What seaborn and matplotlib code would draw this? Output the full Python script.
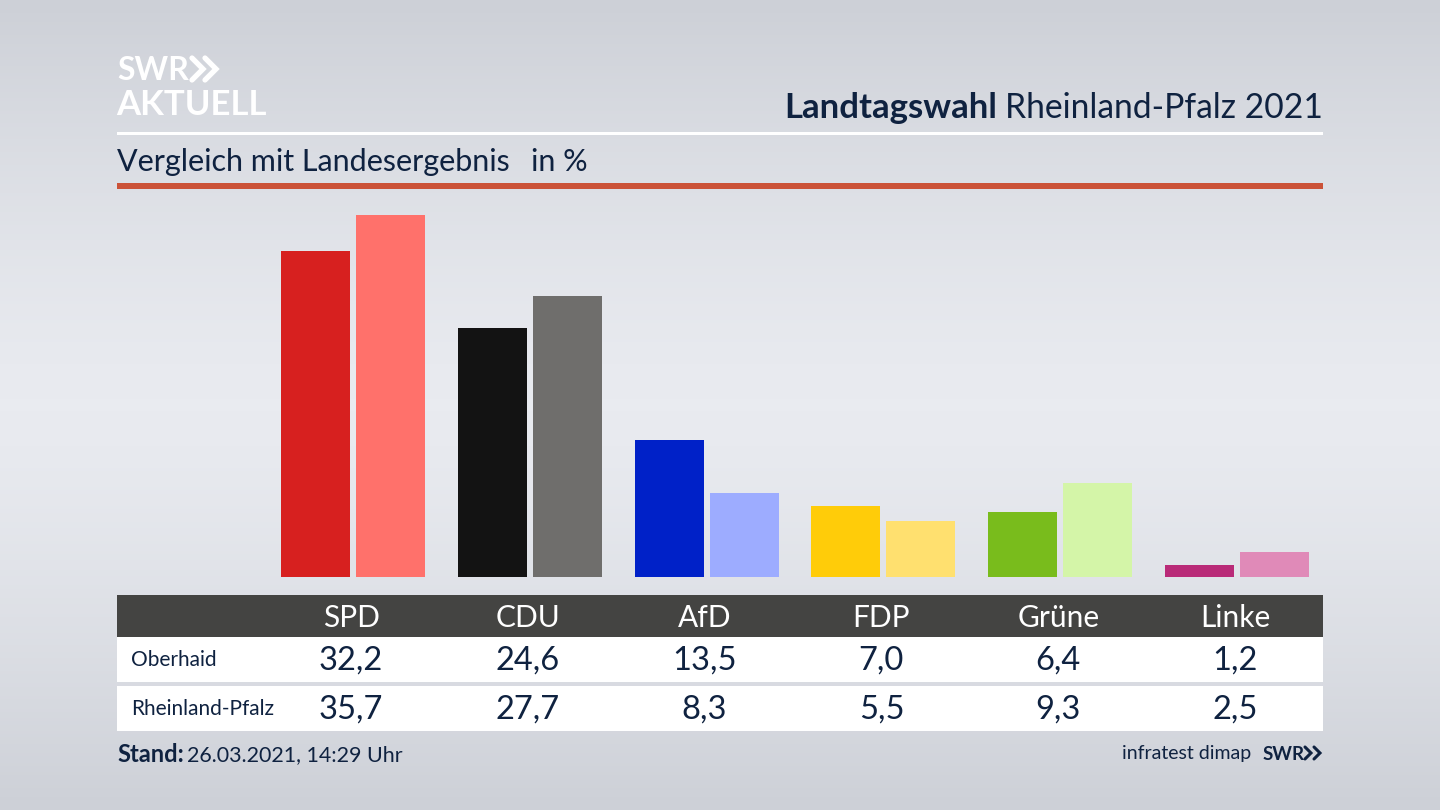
import numpy as np
import pandas as pd
import matplotlib.pyplot as plt
import seaborn as sns

# Daten
parteien = ['SPD', 'CDU', 'AfD', 'FDP', 'Grüne', 'Linke']
oberhaid = [32.2, 24.6, 13.5, 7.0, 6.4, 1.2]
rheinland_pfalz = [35.7, 27.7, 8.3, 5.5, 9.3, 2.5]
farben_oberhaid = ['#d7201f', '#131313', '#0021c8', '#ffcc09', '#79bc1c', '#b92a78']
farben_land = ['#ff716b', '#6f6e6c', '#9dacff', '#ffe06f', '#d4f5a8', '#e08ab8']
gebiete = ['Oberhaid', 'Rheinland-Pfalz']

DUNKEL = '#0f2240'

sns.set_theme(style='white')
plt.rcParams['font.family'] = ['Lato', 'DejaVu Sans']

df = pd.DataFrame({
    'Partei': parteien * 2,
    'Gebiet': [gebiete[0]] * 6 + [gebiete[1]] * 6,
    'Wert': oberhaid + rheinland_pfalz,
})

fig = plt.figure(figsize=(14.4, 8.1), dpi=100)

# Hintergrund und Rahmen in Pixelkoordinaten
bg = fig.add_axes([0, 0, 1, 1])
bg.set_xlim(0, 1440)
bg.set_ylim(810, 0)
bg.axis('off')
verlauf = np.abs(np.linspace(-1, 1, 256)).reshape(-1, 1) ** 1.4
bg.imshow(verlauf, extent=[0, 1440, 810, 0], aspect='auto', zorder=0,
          cmap=sns.blend_palette(['#e9ebf0', '#cdd0d7'], as_cmap=True), vmin=0, vmax=1)

# Balken
ax = fig.add_axes([117 / 1440, 1 - 577 / 810, 1206 / 1440, 387 / 810])
ax.patch.set_alpha(0)
sns.barplot(data=df, x='Partei', y='Wert', hue='Gebiet', order=parteien, hue_order=gebiete,
            width=0.848, gap=0.08, legend=False, ax=ax, saturation=1, linewidth=0)
for cont, farben in zip(ax.containers, [farben_oberhaid, farben_land]):
    for balken, farbe in zip(cont, farben):
        balken.set_facecolor(farbe)
ax.set_xlim(-1.335, 5.486)
ax.set_ylim(0, 38.2)
ax.axis('off')

# Kopf
fg = fig.add_axes([0, 0, 1, 1])
fg.set_xlim(0, 1440)
fg.set_ylim(810, 0)
fg.axis('off')
fg.patch.set_alpha(0)

fg.text(117, 71, 'SWR', color='white', fontsize=23, fontweight='bold', va='center', ha='left')
fg.text(116, 105, 'AKTUELL', color='white', fontsize=25, fontweight='bold', va='center', ha='left')
for x0 in [192, 205]:
    fg.plot([x0, x0 + 11, x0], [58, 69, 80], color='white', lw=3.8, solid_joinstyle='miter')

fg.text(1323, 108, 'Rheinland-Pfalz 2021', color=DUNKEL, fontsize=24.2, va='center', ha='right')
fg.text(997, 108, 'Landtagswahl', color=DUNKEL, fontsize=25, fontweight='bold', va='center', ha='right')
fg.fill_between([117, 1323], 132, 135, color='white', lw=0)
fg.text(117, 162, 'Vergleich mit Landesergebnis', color=DUNKEL, fontsize=22, va='center', ha='left')
fg.text(531, 162, 'in %', color=DUNKEL, fontsize=22, va='center', ha='left')
fg.fill_between([117, 1323], 183, 189, color='#cb5238', lw=0)

# Tabelle
fg.fill_between([117, 1323], 595, 637, color='#444442', lw=0)
fg.fill_between([117, 1323], 637, 682, color='white', lw=0)
fg.fill_between([117, 1323], 686, 731, color='white', lw=0)
for i, partei in enumerate(parteien):
    x = 351 + i * 176.8
    fg.text(x, 618, partei, color='white', fontsize=21.5, va='center', ha='center')
    fg.text(x, 661, f'{oberhaid[i]:.1f}'.replace('.', ','), color=DUNKEL, fontsize=23.5, va='center', ha='center')
    fg.text(x, 710, f'{rheinland_pfalz[i]:.1f}'.replace('.', ','), color=DUNKEL, fontsize=23.5, va='center', ha='center')
fg.text(131, 660, gebiete[0], color=DUNKEL, fontsize=15, va='center', ha='left')
fg.text(131, 709, gebiete[1], color=DUNKEL, fontsize=15, va='center', ha='left')

# Fuss
fg.text(117, 755, 'Stand:', color=DUNKEL, fontsize=17, fontweight='bold', va='center', ha='left')
fg.text(187, 755, '26.03.2021, 14:29 Uhr', color=DUNKEL, fontsize=15.4, va='center', ha='left')
fg.text(1251, 754, 'infratest dimap', color=DUNKEL, fontsize=14, va='center', ha='right')
fg.text(1263, 754, 'SWR', color=DUNKEL, fontsize=13.5, fontweight='bold', va='center', ha='left')
for x0 in [1305, 1314]:
    fg.plot([x0, x0 + 6, x0], [747, 753, 759], color=DUNKEL, lw=2.2, solid_joinstyle='miter')

fg.set_xlim(0, 1440)
fg.set_ylim(810, 0)
plt.savefig('out.png', dpi=100)
